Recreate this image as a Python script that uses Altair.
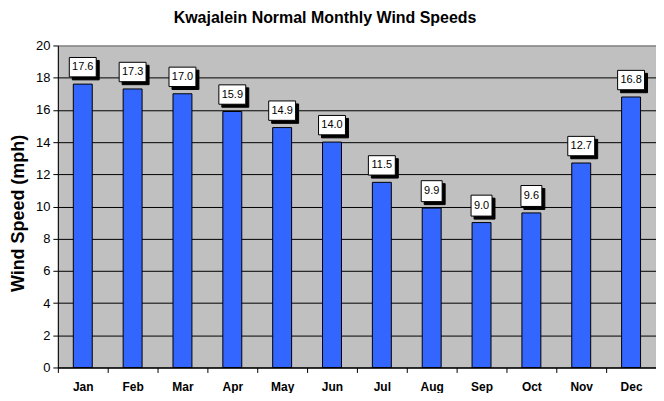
import altair as alt
import pandas as pd

months = ["Jan", "Feb", "Mar", "Apr", "May", "Jun", "Jul", "Aug", "Sep", "Oct", "Nov", "Dec"]
speeds = [17.6, 17.3, 17.0, 15.9, 14.9, 14.0, 11.5, 9.9, 9.0, 9.6, 12.7, 16.8]
labels = ["17.6", "17.3", "17.0", "15.9", "14.9", "14.0", "11.5", "9.9", "9.0", "9.6", "12.7", "16.8"]
y_ticks = [0, 2, 4, 6, 8, 10, 12, 14, 16, 18, 20]

df = pd.DataFrame({"month": months, "speed": speeds, "label": labels})

FONT = "Liberation Sans"

x = alt.X("month:N", sort=months, title=None,
          scale=alt.Scale(paddingInner=0, paddingOuter=0),
          axis=alt.Axis(labelFont=FONT, labelFontSize=12, labelFontWeight="bold",
                        labelColor="black", labelAngle=0, labelPadding=9,
                        tickBand="extent", tickColor="black", tickSize=5,
                        domainColor="black", grid=False))
y = alt.Y("speed:Q", title="Wind Speed (mph)",
          scale=alt.Scale(domain=[0, 20], nice=False),
          axis=alt.Axis(values=y_ticks, tickCount=11, labelOverlap=False,
                        labelFont=FONT, labelFontSize=13,
                        labelColor="black", labelPadding=3, tickColor="black", tickSize=5,
                        domainColor="black",
                        grid=True,
                        gridColor={"condition": {"test": "datum.value === 20", "value": "#808080"},
                                   "value": "black"},
                        gridOpacity=1, gridWidth=1,
                        titleFont=FONT, titleFontSize=18, titleFontWeight="bold",
                        titleColor="black", titlePadding=8, titleY=168))

base = alt.Chart(df)

bars = base.mark_bar(color="#3366FF", stroke="black", strokeWidth=1, size=19).encode(x=x, y=y)

wide = "M-1,-0.72L1,-0.72L1,0.72L-1,0.72Z"
narrow = "M-1,-1L1,-1L1,1L-1,1Z"

def boxes(test, path, size, fill, dx, dy):
    return base.transform_filter(test).mark_point(
        shape=path, size=size, filled=True, fill=fill, stroke="black",
        strokeWidth=1, opacity=1, xOffset=dx, yOffset=dy
    ).encode(x=x, y=y)

OFF = -17
shadow_w = boxes("length(datum.label) == 4", wide, 729, "black", 3, OFF + 3)
shadow_n = boxes("length(datum.label) == 3", narrow, 441, "black", 3, OFF + 3)
box_w = boxes("length(datum.label) == 4", wide, 729, "white", 0, OFF)
box_n = boxes("length(datum.label) == 3", narrow, 441, "white", 0, OFF)

text = base.mark_text(font=FONT, fontSize=11, color="black", baseline="middle",
                      align="center", dy=OFF).encode(x=x, y=y, text="label:N")

chart = alt.layer(bars, shadow_w, shadow_n, box_w, box_n, text).properties(
    width=600, height=323,
    background="white",
    autosize=alt.AutoSizeParams(type="none"),
    padding={"left": 50, "top": 37, "right": 0, "bottom": 25},
    title=alt.TitleParams("Kwajalein Normal Monthly Wind Speeds", font=FONT, fontSize=16,
                          fontWeight="bold", color="black", anchor="middle",
                          frame="bounds", offset=14, dx=-8),
).configure_view(fill="#C0C0C0", stroke="#808080", strokeWidth=1)

chart.save("out.html", embed_options={"renderer": "svg", "actions": False})
